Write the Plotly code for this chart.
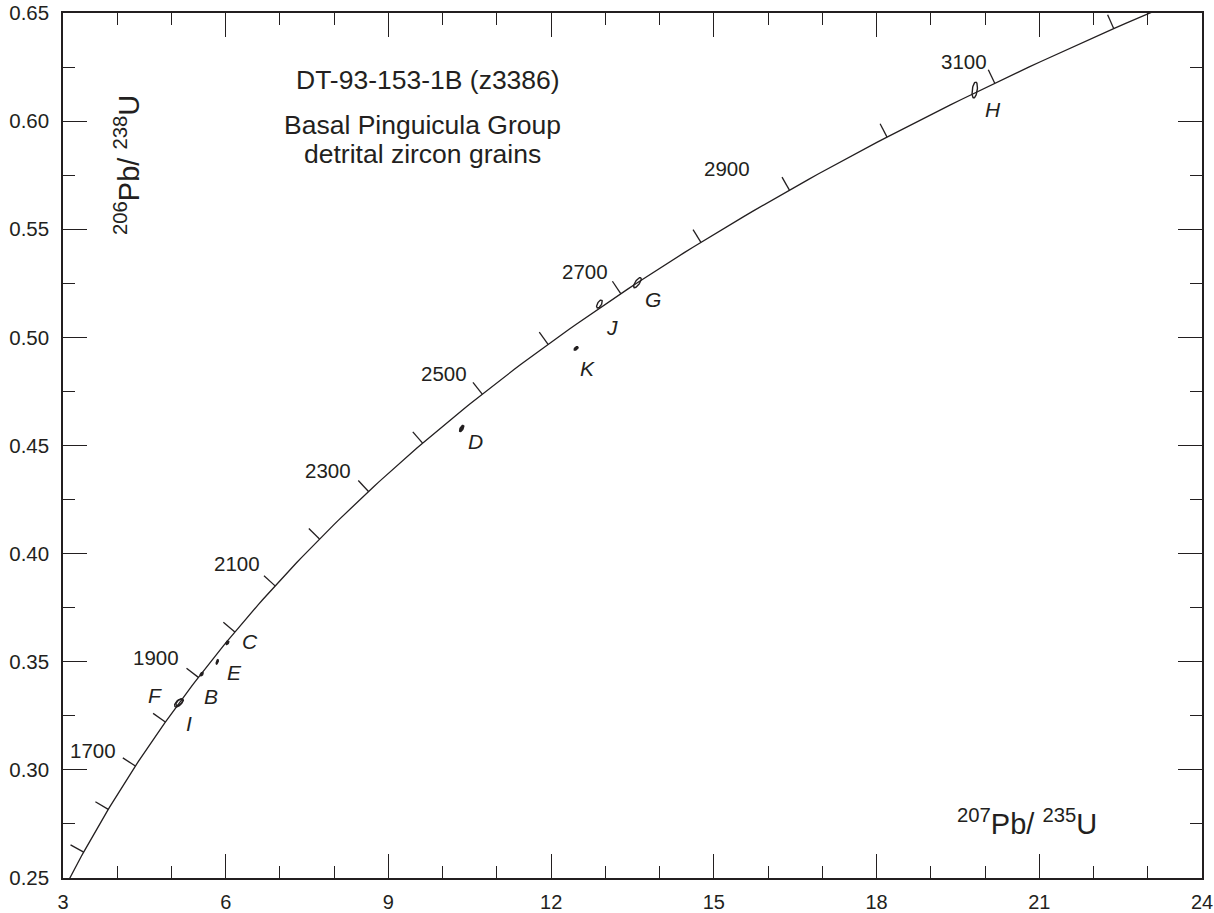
import numpy as np
import plotly.graph_objects as go

# ---------------- data ----------------
# decay constants (per Ma)
LAMBDA_238 = 1.55125e-4
LAMBDA_235 = 9.8485e-4

CURVE_AGES = list(range(1400, 3301, 10))                  # concordia path (Ma)
TICK_AGES = [1500, 1600, 1700, 1800, 1900, 2000, 2100, 2200, 2300,
             2400, 2500, 2600, 2700, 2800, 2900, 3000, 3100, 3200]
LABEL_AGES = [1700, 1900, 2100, 2300, 2500, 2700, 2900, 3100]

GRAIN_NAMES = ["F", "I", "B", "E", "C", "D", "K", "J", "G", "H"]
GRAIN_X = [5.13, 5.15, 5.557, 5.845, 6.03, 10.35, 12.46, 12.89, 13.59, 19.81]   # 207Pb/235U
GRAIN_Y = [0.3309, 0.3313, 0.3443, 0.3500, 0.3588, 0.4579, 0.4949, 0.5154, 0.5253, 0.6144]  # 206Pb/238U

# ---------------- style ----------------
W, H = 1214, 913
ML, MR, MT, MB = 63, 12, 13, 35
XR = [3, 24]
YR = [0.25, 0.65]
PX_X = (XR[1] - XR[0]) / (W - ML - MR)
PX_Y = (YR[1] - YR[0]) / (H - MT - MB)
INK = "#231f20"
FONT = "Liberation Sans, Arial, Helvetica, sans-serif"

# ellipse shapes (semi-major px, semi-minor px, screen angle deg, filled?)
ELL_A = [5.0, 4.5, 2.0, 2.5, 2.0, 3.5, 2.5, 4.5, 6.0, 8.0]
ELL_B = [2.5, 2.3, 1.2, 0.8, 1.2, 1.5, 1.2, 2.0, 2.2, 2.5]
ELL_T = [45, 40, 55, 70, 55, 60, 40, 60, 55, 82]
ELL_FILL = [False, False, True, True, True, True, True, False, False, False]
# label offsets from grain centre (px, y up)
GL_DX = [-24, 9, 9, 17, 23, 14, 11, 13, 16, 18]
GL_DY = [8, -21, -22, -11, 1, -13, -20, -23, -17, -20]
# age label offsets from curve point (px, y up)
AL_DX = [-42, -42, -38, -41, -38, -36, -62, -31]
AL_DY = [16, 20, 22, 21, 21, 22, 22, 22]
TICK_LEN = 15


def concordia(t):
    t = np.asarray(t, dtype=float)
    return np.exp(LAMBDA_235 * t) - 1, np.exp(LAMBDA_238 * t) - 1


fig = go.Figure()

# concordia curve
cx, cy = concordia(CURVE_AGES)
fig.add_trace(go.Scatter(x=cx, y=cy, mode="lines",
                         line=dict(color=INK, width=1.3), hoverinfo="skip"))

# age ticks perpendicular to curve (screen space)
tx, ty = [], []
for a in TICK_AGES:
    x0, y0 = concordia(a)
    vx = LAMBDA_235 * np.exp(LAMBDA_235 * a) / PX_X
    vy = LAMBDA_238 * np.exp(LAMBDA_238 * a) / PX_Y
    n = np.hypot(vx, vy)
    nx, ny = -vy / n, vx / n
    tx += [float(x0), float(x0 + nx * TICK_LEN * PX_X), None]
    ty += [float(y0), float(y0 + ny * TICK_LEN * PX_Y), None]
fig.add_trace(go.Scatter(x=tx, y=ty, mode="lines",
                         line=dict(color=INK, width=1.3), hoverinfo="skip"))

# age labels
for a, dx, dy in zip(LABEL_AGES, AL_DX, AL_DY):
    x0, y0 = concordia(a)
    fig.add_annotation(x=float(x0), y=float(y0), text=str(a), showarrow=False,
                       xshift=dx, yshift=dy, xanchor="center", yanchor="middle",
                       font=dict(family=FONT, size=20.5, color=INK))

# grain ellipses
tt = np.linspace(0, 2 * np.pi, 60)
for name, gx, gy, a, b, th, filled in zip(GRAIN_NAMES, GRAIN_X, GRAIN_Y,
                                           ELL_A, ELL_B, ELL_T, ELL_FILL):
    r = np.deg2rad(th)
    ox = a * np.cos(tt) * np.cos(r) - b * np.sin(tt) * np.sin(r)
    oy = a * np.cos(tt) * np.sin(r) + b * np.sin(tt) * np.cos(r)
    fig.add_trace(go.Scatter(x=gx + ox * PX_X, y=gy + oy * PX_Y, mode="lines",
                             fill="toself" if filled else "none",
                             fillcolor=INK,
                             line=dict(color=INK, width=1.4), hoverinfo="skip"))

for name, gx, gy, dx, dy in zip(GRAIN_NAMES, GRAIN_X, GRAIN_Y, GL_DX, GL_DY):
    fig.add_annotation(x=gx, y=gy, text="<i>%s</i>" % name, showarrow=False,
                       xshift=dx, yshift=dy, xanchor="center", yanchor="middle",
                       font=dict(family=FONT, size=21, color=INK))

# titles
fig.add_annotation(xref="paper", yref="paper", x=0.3205, y=0.9225,
                   text="DT-93-153-1B (z3386)", showarrow=False,
                   xanchor="center", yanchor="middle",
                   font=dict(family=FONT, size=26.5, color=INK))
fig.add_annotation(xref="paper", yref="paper", x=0.3152, y=0.8705,
                   text="Basal Pinguicula Group", showarrow=False,
                   xanchor="center", yanchor="middle",
                   font=dict(family=FONT, size=26.5, color=INK))
fig.add_annotation(xref="paper", yref="paper", x=0.3152, y=0.837,
                   text="detrital zircon grains", showarrow=False,
                   xanchor="center", yanchor="middle",
                   font=dict(family=FONT, size=26.5, color=INK))

# axis titles inside plot
fig.add_annotation(xref="paper", yref="paper", x=0.8464, y=0.0647,
                   text="<sup>207</sup>Pb/ <sup>235</sup>U", showarrow=False,
                   xanchor="center", yanchor="middle",
                   font=dict(family=FONT, size=29, color=INK))
fig.add_annotation(xref="paper", yref="paper", x=0.0562, y=0.8243,
                   text="<sup>206</sup>Pb/ <sup>238</sup>U", showarrow=False,
                   textangle=-90, xanchor="center", yanchor="middle",
                   font=dict(family=FONT, size=29, color=INK))

axis_common = dict(showgrid=False, zeroline=False, showline=True, linecolor=INK,
                   linewidth=1.5, mirror="ticks", ticks="inside", ticklen=24,
                   tickwidth=1.3, tickcolor=INK, automargin=False)

fig.update_layout(
    width=W, height=H,
    margin=dict(l=ML, r=MR, t=MT, b=MB),
    paper_bgcolor="white", plot_bgcolor="white",
    showlegend=False,
    xaxis=dict(range=XR, tick0=3, dtick=3, ticklabelstandoff=5,
               tickfont=dict(family=FONT, size=20, color=INK),
               minor=dict(dtick=1, tick0=3, ticks="inside", ticklen=12,
                          tickwidth=1.3, tickcolor=INK),
               **axis_common),
    yaxis=dict(range=YR, tick0=0.25, dtick=0.05, tickformat=".2f",
               ticklabelstandoff=8,
               tickfont=dict(family=FONT, size=20.5, color=INK),
               minor=dict(dtick=0.025, tick0=0.25, ticks="inside", ticklen=12,
                          tickwidth=1.3, tickcolor=INK),
               **axis_common),
)

fig.write_html("out.html")
